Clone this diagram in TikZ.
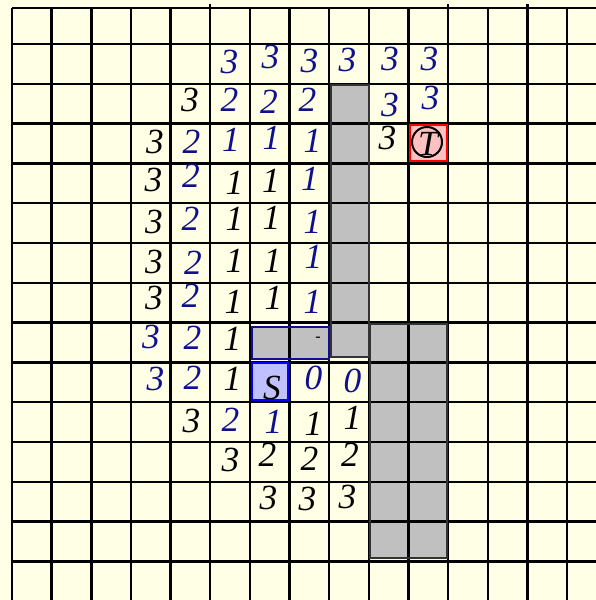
\documentclass[tikz,border=0pt]{standalone}
\usepackage{fontspec}
\setmainfont{Liberation Serif}
\usepackage{tikz}
\usepackage{xcolor}
\definecolor{paper}{RGB}{255,255,230}
\definecolor{wallgray}{RGB}{192,192,192}
\definecolor{darkblue}{RGB}{16,16,140}
\definecolor{startblue}{RGB}{192,192,255}
\definecolor{goalpink}{RGB}{255,192,192}

\begin{document}
\begin{tikzpicture}[x=0.75pt,y=-0.75pt,
  gridline/.style={line width=1.8pt,black},
  wall/.style={draw=black!80,line width=1.5pt},
  num/.style={inner sep=0pt,font=\fontsize{26.5}{26.5}\selectfont\itshape},
  blu/.style={num,text=darkblue},
  blk/.style={num,text=black}]
\fill[paper] (0,0) rectangle (596,600);
\useasboundingbox (0,0) rectangle (596,600);
% fills under the grid
\fill[wallgray] (331,85) rectangle (369,357);
\fill[wallgray] (252,327) rectangle (329,359);
\fill[wallgray] (370,324) rectangle (447,558);
\fill[startblue] (252,363) rectangle (288,400);
\fill[goalpink] (410,125) rectangle (447,161);
% grid
\draw[gridline] (12,8) -- (596,8);
\foreach \k in {0,...,13}
  \draw[gridline] (12,{44+39.8*\k}) -- (596,{44+39.8*\k});
\foreach \k in {0,...,14}
  \draw[gridline] ({12+39.65*\k},8) -- ({12+39.65*\k},600);
\foreach \k in {5,11,13}
  \draw[gridline] ({12+39.65*\k},4) -- ({12+39.65*\k},8);
% walls, start, goal
\draw[wall] (331,85) rectangle (369,357);
\draw[wall] (370,324) rectangle (447,558);
\draw[draw=darkblue,line width=1.2pt] (252,327) rectangle (329,359);
\draw[draw=blue,line width=1.3pt] (252,363) rectangle (288,400);
\draw[draw=red,line width=1.5pt] (410,125) rectangle (447,161);
\node[circle,draw,fill=goalpink,line width=1.5pt,minimum size=22.5pt,inner sep=0pt] (goal) at (427,142) {};
\node[blk] (goalT) at (428,144) {T};
\node[blk] (start) at (272,388) {S};
\node[inner sep=0pt,font=\fontsize{12}{12}\selectfont] (mark) at (318,339) {-};
% row 1
\node[blu] (r1c5) at (229.5,62) {3};
\node[blu] (r1c6) at (270.5,56.5) {3};
\node[blu] (r1c7) at (309.5,60.5) {3};
\node[blu] (r1c8) at (347.5,59.5) {3};
\node[blu] (r1c9) at (390,58.5) {3};
\node[blu] (r1c10) at (429.5,58.5) {3};
% row 2
\node[blk] (r2c4) at (190,100) {3};
\node[blu] (r2c5) at (229.5,100) {2};
\node[blu] (r2c6) at (269,102) {2};
\node[blu] (r2c7) at (307.5,100) {2};
\node[blu] (r2c9) at (390,104.5) {3};
\node[blu] (r2c10) at (430.5,97.5) {3};
% row 3
\node[blk] (r3c3) at (155,142) {3};
\node[blu] (r3c4) at (191.5,141.5) {2};
\node[blu] (r3c5) at (231,140) {1};
\node[blu] (r3c6) at (271.5,137.5) {1};
\node[blu] (r3c7) at (312.5,141) {1};
\node[blk] (r3c9) at (387.5,138) {3};
% row 4
\node[blk] (r4c3) at (153.5,180) {3};
\node[blu] (r4c4) at (191,176) {2};
\node[blk] (r4c5) at (234.5,182.5) {1};
\node[blk] (r4c6) at (271,181) {1};
\node[blu] (r4c7) at (310,179) {1};
% row 5
\node[blk] (r5c3) at (154,221.5) {3};
\node[blu] (r5c4) at (190.5,219) {2};
\node[blk] (r5c5) at (234.5,219) {1};
\node[blk] (r5c6) at (271.5,217.5) {1};
\node[blu] (r5c7) at (312.5,221.5) {1};
% row 6
\node[blk] (r6c3) at (154,261.5) {3};
\node[blu] (r6c4) at (193,262.5) {2};
\node[blk] (r6c5) at (234.5,261) {1};
\node[blk] (r6c6) at (272.5,261) {1};
\node[blu] (r6c7) at (313.5,256.5) {1};
% row 7
\node[blk] (r7c3) at (154,297.5) {3};
\node[blu] (r7c4) at (190.5,296) {2};
\node[blk] (r7c5) at (233.5,301.5) {1};
\node[blk] (r7c6) at (273.5,297.5) {1};
\node[blu] (r7c7) at (312.5,302) {1};
% row 8
\node[blu] (r8c3) at (151,337) {3};
\node[blu] (r8c4) at (192.5,337.5) {2};
\node[blk] (r8c5) at (232.5,338.5) {1};
% row 9
\node[blu] (r9c3) at (155.5,378.5) {3};
\node[blu] (r9c4) at (192.5,377.5) {2};
\node[blk] (r9c5) at (232.5,378.5) {1};
\node[blu] (r9c7) at (313.5,377.5) {0};
\node[blu] (r9c8) at (352.5,380.5) {0};
% row 10
\node[blk] (r10c4) at (191.5,420.5) {3};
\node[blu] (r10c5) at (230.5,420) {2};
\node[blu] (r10c6) at (273.5,421.5) {1};
\node[blk] (r10c7) at (313.5,423.5) {1};
\node[blk] (r10c8) at (352.5,417.5) {1};
% row 11
\node[blk] (r11c5) at (230.5,460) {3};
\node[blk] (r11c6) at (267.5,455) {2};
\node[blk] (r11c7) at (309.5,459) {2};
\node[blk] (r11c8) at (350,455) {2};
% row 12
\node[blk] (r12c6) at (268.5,497.5) {3};
\node[blk] (r12c7) at (307.5,498.5) {3};
\node[blk] (r12c8) at (347.5,496.5) {3};
\end{tikzpicture}
\end{document}
